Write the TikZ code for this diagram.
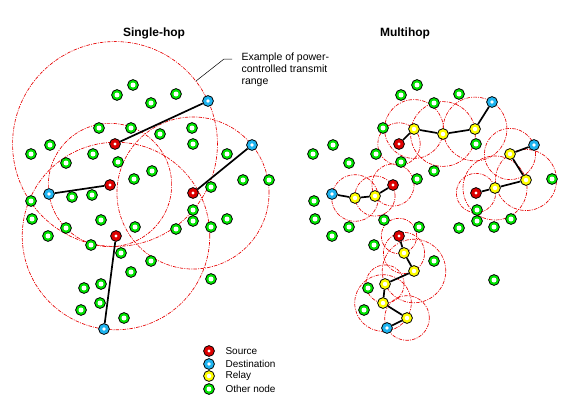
\documentclass[tikz,border=0pt]{standalone}
\usepackage{fontspec}
\setmainfont{Liberation Sans}
\usepackage{tikz}
\usetikzlibrary{calc,backgrounds}
\definecolor{srcred}{RGB}{222,0,0}
\definecolor{dstblue}{RGB}{30,180,240}
\definecolor{relayyellow}{RGB}{255,255,0}
\definecolor{othergreen}{RGB}{0,230,0}
\definecolor{rangered}{RGB}{230,0,0}
\tikzset{
  netnode/.style={circle, draw=black, line width=0.8pt, minimum size=10.8pt, inner sep=0pt},
  othernode/.style={netnode, fill=othergreen, path picture={\fill [white] (path picture bounding box.center) circle [radius=2.5pt];}},
  sourcenode/.style={netnode, fill=srcred, path picture={\fill [white] (path picture bounding box.center) circle [radius=1.6pt];}},
  destnode/.style={netnode, fill=dstblue, path picture={\fill [white] (path picture bounding box.center) circle [radius=1.8pt];}},
  relaynode/.style={netnode, fill=relayyellow, path picture={\fill [white] (path picture bounding box.center) circle [radius=2.2pt];}},
  hopline/.style={line width=1.7pt, black},
  txrange/.style={draw=rangered, line width=0.65pt, dash pattern=on 3.5pt off 1.2pt on 1pt off 1.2pt},
  headline/.style={font=\bfseries\fontsize{12}{14}\selectfont},
  keytext/.style={anchor=west, font=\fontsize{10}{12}\selectfont},
}
\newcommand{\netother}[2] {\node at (#1) (#2) [othernode] {};}
\newcommand{\netsource}[2] {\node at (#1) (#2) [sourcenode] {};}
\newcommand{\netdest}[2] {\node at (#1) (#2) [destnode] {};}
\newcommand{\netrelay}[2] {\node at (#1) (#2) [relaynode] {};}
\newcommand{\nethop}[2] {\draw [hopline] (#1) -- (#2);}
\newcommand{\netrange}[2] {\draw [txrange] let \p1 = ($(#2)-(#1)$), \n1 = {veclen(\x1,\y1)} in (#1) circle [radius=\n1];}

\begin{document}
\begin{tikzpicture}[x=1pt, y=-1pt]
\useasboundingbox (0,0) rectangle (580,405);

\node at (154,33) (single) [headline] {Single-hop};
\node at (405,33) (multi) [headline] {Multihop};

% single-hop
\netsource {115,144}{s1}
\netsource {110,185}{s2}
\netsource {193,193}{s3}
\netsource {116,236}{s4}
\netdest {208,101}{d1}
\netdest {49,194}{d2}
\netdest {252,145}{d3}
\netdest {104,329}{d4}

\netother {133,85}{o1}
\netother {117,95}{o2}
\netother {151,103}{o3}
\netother {176,94}{o4}
\netother {99,128}{o5}
\netother {131,128}{o6}
\netother {160,134}{o7}
\netother {192,128}{o8}
\netother {193,144}{o9}
\netother {50,145}{o10}
\netother {31,154}{o11}
\netother {93,154}{o12}
\netother {66,163}{o13}
\netother {118,162}{o14}
\netother {152,171}{o15}
\netother {134,179}{o16}
\netother {72,197}{o17}
\netother {92,195}{o18}
\netother {227,154}{o19}
\netother {243,180}{o20}
\netother {269,180}{o21}
\netother {211,187}{o22}
\netother {31,201}{o23}
\netother {32,219}{o24}
\netother {66,228}{o25}
\netother {48,236}{o26}
\netother {101,220}{o27}
\netother {135,227}{o28}
\netother {91,245}{o29}
\netother {121,253}{o30}
\netother {151,261}{o31}
\netother {131,272}{o32}
\netother {176,229}{o33}
\netother {193,210}{o34}
\netother {193,221}{o35}
\netother {211,227}{o36}
\netother {227,219}{o37}
\netother {211,279}{o38}
\netother {101,284}{o39}
\netother {84,288}{o40}
\netother {100,303}{o41}
\netother {81,310}{o42}
\netother {124,318}{o43}

\begin{scope}[on background layer]
\netrange {s1}{d1}
\netrange {s2}{d2}
\netrange {s3}{d3}
\netrange {s4}{d4}
\nethop {s1}{d1}
\nethop {s2}{d2}
\nethop {s3}{d3}
\nethop {s4}{d4}
\end{scope}

\node at (238,70) (note) [anchor=west, align=left, font=\fontsize{10.5}{11.8}\selectfont] {Example of power-\\controlled transmit\\range};
\coordinate (note1) at (232,59);
\coordinate (note2) at (224,59);
\coordinate (note3) at (196,81);
\draw [line width=0.5pt] (note1) -- (note2) -- (note3);

% multihop
\netsource {399,144}{sa}
\netrelay {414,129}{ra1}
\netrelay {443,134}{ra2}
\netrelay {475,129}{ra3}
\netdest {492,102}{da}

\netsource {393,185}{sb}
\netrelay {375,196}{rb1}
\netrelay {355,198}{rb2}
\netdest {332,194}{db}

\netsource {476,193}{sc}
\netrelay {495,188}{rc1}
\netrelay {526,180}{rc2}
\netrelay {510,154}{rc3}
\netdest {534,145}{dc}

\netsource {399,236}{sd}
\netrelay {404,253}{rd1}
\netrelay {414,271}{rd2}
\netrelay {385,284}{rd3}
\netrelay {383,303}{rd4}
\netrelay {407,318}{rd5}
\netdest {387,328}{dd}

\netother {417,85}{m1}
\netother {401,95}{m2}
\netother {459,94}{m3}
\netother {434,103}{m4}
\netother {383,128}{m5}
\netother {476,144}{m6}
\netother {333,145}{m7}
\netother {313,154}{m8}
\netother {376,154}{m9}
\netother {349,163}{m10}
\netother {401,162}{m11}
\netother {434,171}{m12}
\netother {417,179}{m13}
\netother {314,201}{m14}
\netother {315,219}{m15}
\netother {349,227}{m16}
\netother {384,220}{m17}
\netother {419,227}{m18}
\netother {459,228}{m19}
\netother {477,210}{m20}
\netother {477,221}{m21}
\netother {494,227}{m22}
\netother {511,219}{m23}
\netother {552,179}{m24}
\netother {494,280}{m25}
\netother {332,236}{m26}
\netother {374,245}{m27}
\netother {434,261}{m28}
\netother {368,288}{m29}
\netother {364,310}{m30}

\begin{scope}[on background layer]
\netrange {sa}{ra1}
\netrange {ra1}{ra2}
\netrange {ra2}{ra3}
\netrange {ra3}{da}
\netrange {sb}{rb1}
\netrange {rb1}{rb2}
\netrange {rb2}{db}
\netrange {sc}{rc1}
\netrange {rc1}{rc2}
\netrange {rc2}{rc3}
\netrange {rc3}{dc}
\netrange {sd}{rd1}
\netrange {rd1}{rd2}
\netrange {rd2}{rd3}
\netrange {rd3}{rd4}
\netrange {rd4}{rd5}
\netrange {rd5}{dd}
\nethop {sa}{ra1}
\nethop {ra1}{ra2}
\nethop {ra2}{ra3}
\nethop {ra3}{da}
\nethop {sb}{rb1}
\nethop {rb1}{rb2}
\nethop {rb2}{db}
\nethop {sc}{rc1}
\nethop {rc1}{rc2}
\nethop {rc2}{rc3}
\nethop {rc3}{dc}
\nethop {sd}{rd1}
\nethop {rd1}{rd2}
\nethop {rd2}{rd3}
\nethop {rd3}{rd4}
\nethop {rd4}{rd5}
\nethop {rd5}{dd}
\end{scope}

% legend
\netsource {209,351}{keysource}
\node at (222,351) (keysourcetext) [keytext] {Source};
\netdest {209,364}{keydest}
\node at (222,364) (keydesttext) [keytext] {Destination};
\netrelay {209,376}{keyrelay}
\node at (222,376) (keyrelaytext) [keytext] {Relay};
\netother {209,389}{keyother}
\node at (222,389) (keyothertext) [keytext] {Other node};

\end{tikzpicture}
\end{document}
